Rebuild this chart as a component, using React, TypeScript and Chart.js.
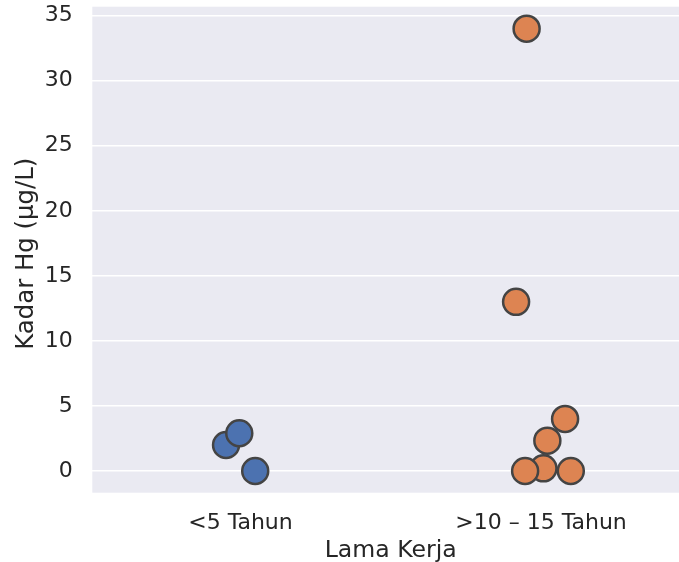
import React, { useEffect, useRef } from "react";
import { Chart, registerables } from "chart.js";

Chart.register(...registerables);

const categories = ["<5 Tahun", ">10 – 15 Tahun"];
const yTicks = [0, 5, 10, 15, 20, 25, 30, 35];
const xTitle = "Lama Kerja";
const yTitle = "Kadar Hg (μg/L)";

// <5 Tahun
const groupAValues = [2.0, 2.9, 0.0];
const groupAJitter = [-0.048, -0.004, 0.049];

// >10 – 15 Tahun
const groupBValues = [0.2, 2.33, 0.0, 0.0, 4.0, 34.0, 13.0];
const groupBJitter = [0.008, 0.021, -0.053, 0.099, 0.08, -0.048, -0.083];

const colors = ["#4c72b0", "#dd8452"];
const FONT = "'DejaVu Sans', sans-serif";
const TEXT = "#262626";

const bgPlugin = {
  id: "plotBg",
  beforeDraw(chart: any) {
    const { ctx, chartArea } = chart;
    ctx.save();
    ctx.fillStyle = "#eaeaf2";
    ctx.fillRect(chartArea.left, chartArea.top, chartArea.right - chartArea.left, chartArea.bottom - chartArea.top);
    ctx.restore();
  },
};

const titlesPlugin = {
  id: "axisTitles",
  afterDraw(chart: any) {
    const { ctx, chartArea } = chart;
    const xs = chart.scales.x;
    const cx = (xs.getPixelForValue(0) + xs.getPixelForValue(categories.length - 1)) / 2;
    ctx.save();
    ctx.fillStyle = TEXT;
    ctx.font = `23.6px ${FONT}`;
    ctx.textAlign = "center";
    ctx.textBaseline = "alphabetic";
    ctx.fillText(xTitle, cx, chart.height - 5.5);
    ctx.translate(32.5, (chartArea.top + chartArea.bottom) / 2 + 4);
    ctx.rotate(-Math.PI / 2);
    ctx.font = `24.4px ${FONT}`;
    ctx.fillText(yTitle, 0, 0);
    ctx.restore();
  },
};

export default function App() {
  const ref = useRef<HTMLCanvasElement>(null);

  useEffect(() => {
    if (!ref.current) return;
    const mk = (vals: number[], jit: number[], idx: number) =>
      vals.map((v, i) => ({ x: idx + jit[i], y: v }));
    const chart = new Chart(ref.current, {
      type: "scatter",
      data: {
        datasets: [
          {
            label: categories[0],
            data: mk(groupAValues, groupAJitter, 0),
            backgroundColor: colors[0],
            borderColor: "#444444",
            borderWidth: 2.5,
            pointRadius: 13,
            pointHoverRadius: 13,
          },
          {
            label: categories[1],
            data: mk(groupBValues, groupBJitter, 1),
            backgroundColor: colors[1],
            borderColor: "#444444",
            borderWidth: 2.5,
            pointRadius: 13,
            pointHoverRadius: 13,
          },
        ],
      },
      options: {
        responsive: false,
        animation: false,
        devicePixelRatio: 1,
        layout: { autoPadding: false, padding: { top: 6.7, left: 0, right: 0, bottom: 0 } },
        plugins: { legend: { display: false }, tooltip: { enabled: false } },
        scales: {
          x: {
            type: "linear",
            min: -0.493,
            max: 1.459,
            border: { display: false },
            grid: { display: false, drawTicks: false },
            afterBuildTicks: (s: any) => {
              s.ticks = categories.map((_, i) => ({ value: i }));
            },
            afterFit: (s: any) => {
              s.height = 69.3;
              s.paddingLeft = 0;
              s.paddingRight = 0;
            },
            ticks: {
              padding: 17.5,
              color: TEXT,
              font: { family: FONT, size: 22 },
              callback: (v: any) => categories[Number(v)] ?? "",
              maxRotation: 0,
              autoSkip: false,
            },
            title: { display: false },
          },
          y: {
            min: -1.67,
            max: 35.69,
            border: { display: false },
            grid: { color: "#ffffff", lineWidth: 1.5, drawTicks: false },
            afterBuildTicks: (s: any) => {
              s.ticks = yTicks.map((v) => ({ value: v }));
            },
            afterFit: (s: any) => {
              s.width = 92.3;
              s.paddingTop = 0;
              s.paddingBottom = 0;
            },
            ticks: {
              padding: 19.5,
              color: TEXT,
              font: { family: FONT, size: 22 },
            },
            title: { display: false },
          },
        },
      },
      plugins: [bgPlugin, titlesPlugin],
    });
    return () => chart.destroy();
  }, []);

  return (
    <div style={{ position: "absolute", left: 0, top: 0, width: 679, height: 562 }}>
      <canvas ref={ref} width={679} height={562} />
    </div>
  );
}
